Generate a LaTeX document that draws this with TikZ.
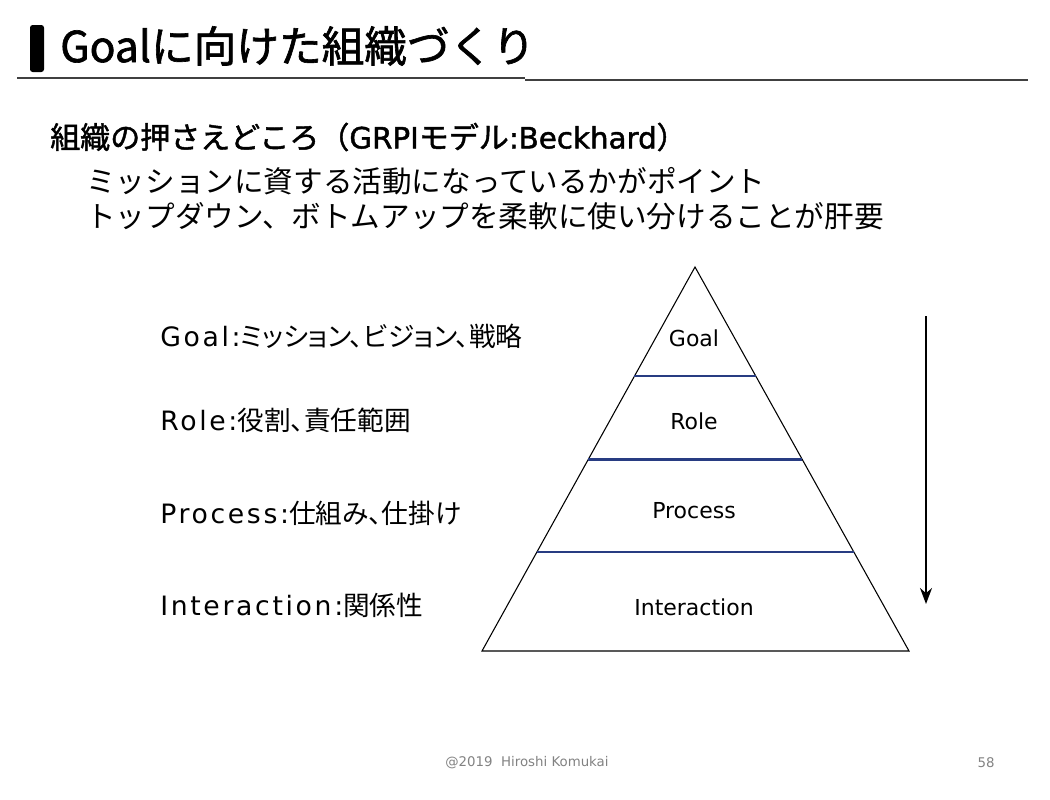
\documentclass[tikz,border=0pt]{standalone}
\usepackage{fontspec}
\setmainfont{Noto Sans CJK JP}
\newfontfamily\jpp{Noto Sans CJK JP}[RawFeature=+palt]
\newfontfamily\jpfb{Noto Sans CJK JP}[FakeBold=1.5]
\newfontfamily\lat{DejaVu Sans}[LetterSpace=10]
\newfontfamily\latn{DejaVu Sans}
\newfontfamily\latfb{DejaVu Sans}[FakeBold=1.5]
\usetikzlibrary{arrows.meta,calc}
\definecolor{navy}{RGB}{40,60,130}
\definecolor{rule}{RGB}{64,64,64}
\definecolor{foot}{RGB}{130,130,130}
\begin{document}
\begin{tikzpicture}[x=0.75pt,y=-0.75pt,
  lbl/.style={anchor=west,inner sep=0pt,font=\fontsize{20}{22}\selectfont\jpp},
  body/.style={anchor=west,inner sep=0pt,font=\fontsize{22.2}{26}\selectfont},
  pyr/.style={inner sep=0pt,font=\fontsize{16.5}{18}\selectfont\latn},
  sep/.style={navy,line width=1.6pt},
  foottext/.style={inner sep=0pt,text=foot,font=\fontsize{10}{11}\selectfont\latn}]
\useasboundingbox (0,0) rectangle (1050,800);
% title
\fill[black,rounded corners=2pt] (30,25) rectangle (44,72);
\node[anchor=west,inner sep=0pt,font=\fontsize{32}{34}\selectfont\jpfb] (title) at (60,46) {Goalに向けた組織づくり};
\draw[rule,line width=2.2pt] (17,78) -- (525,78);
\draw[rule,line width=2.2pt] (525,80) -- (1028,80);
% text
\node[body,font=\fontsize{22.5}{25}\selectfont\jpfb] (sub) at (50,137) {組織の押さえどころ（{\latfb\fontsize{22}{24}\selectfont GRPI}モデル{\latfb\fontsize{22}{24}\selectfont :Beckhard}）};
\node[body] (l1) at (86,181) {ミッションに資する活動になっているかがポイント};
\node[body] (l2) at (86,216) {トップダウン、ボトムアップを柔軟に使い分けることが肝要};
% left labels
\node[lbl] (g) at (160,336) {{\lat Goal:}ミッション、ビジョン、戦略};
\node[lbl] (r) at (160,420) {{\lat Role:}役割、責任範囲};
\node[lbl] (p) at (160,513) {{\lat Process:}仕組み、仕掛け};
\node[lbl] (i) at (160,605) {{\lat Interaction:}関係性};
% pyramid
\coordinate (A) at (695,267);
\coordinate (BL) at (482,651);
\coordinate (BR) at (909,651);
\draw[black,line width=0.8pt] (A) -- (BL) -- (BR) -- cycle;
\draw[sep] ($(A)!0.2846!(BL)$) -- ($(A)!0.2846!(BR)$);
\draw[sep] ($(A)!0.5013!(BL)$) -- ($(A)!0.5013!(BR)$);
\draw[sep] ($(A)!0.7415!(BL)$) -- ($(A)!0.7415!(BR)$);
\node[pyr] (pg) at (694,338) {Goal};
\node[pyr] (pr) at (694,421) {Role};
\node[pyr] (pp) at (694,511) {Process};
\node[pyr] (pi) at (694,607) {Interaction};
% arrow
\coordinate (at) at (926,316);
\coordinate (ab) at (926,604);
\draw[black,line width=1.5pt,-{Stealth[length=12pt,width=9pt]}] (at) -- (ab);
% footer
\node[foottext] (copy) at (527,763) {@2019\ \ Hiroshi Komukai};
\node[foottext] (page) at (986,763) {58};
\end{tikzpicture}
\end{document}
